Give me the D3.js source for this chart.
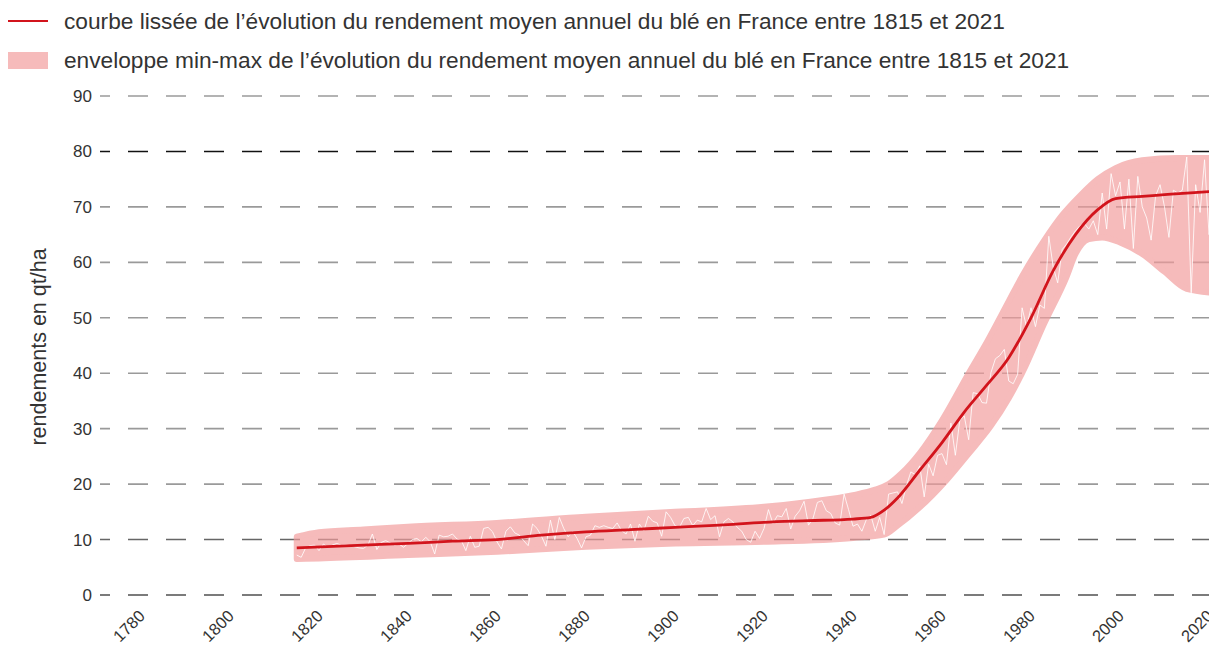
<!DOCTYPE html>
<html><head><meta charset="utf-8">
<script src="https://cdn.jsdelivr.net/npm/d3@7"></script>
<style>body{margin:0;background:#fff}svg{display:block;font-family:"Liberation Sans",Arial,sans-serif}</style>
</head><body><svg id="c" width="1209" height="646"></svg>
<script>
// ---- data ----
const yTicks = [0,10,20,30,40,50,60,70,80,90];
const xTicks = [1780,1800,1820,1840,1860,1880,1900,1920,1940,1960,1980,2000,2020];
const smoothYears  = [1815,1830,1840,1850,1860,1870,1880,1890,1900,1910,1920,1930,1940,1944,1947,1950,1955,1960,1965,1970,1975,1980,1985,1990,1995,1999,2005,2010,2015,2021];
const smoothValues = [8.5,9.0,9.3,9.7,10.0,10.8,11.4,11.8,12.2,12.6,13.1,13.4,13.7,14.0,15.3,17.5,22.5,27.5,33.0,37.8,42.8,50.0,58.5,65.0,69.5,71.5,71.9,72.2,72.5,72.8];
const upperYears  = [1815,1820,1830,1840,1860,1880,1900,1920,1930,1940,1945,1948,1951,1955,1960,1966,1970,1975,1978,1983,1987,1991,1995,1999,2005,2013,2021];
const upperValues = [10.5,11.3,11.8,12.3,13.0,14.1,15.0,15.9,16.8,18.0,19.0,20.0,22.0,25.6,31.5,40.0,45.5,53.0,57.5,64.0,68.5,72.0,75.0,77.0,78.4,78.8,78.8];
const lowerYears  = [1815,1820,1840,1860,1880,1900,1920,1940,1947,1950,1955,1961,1966,1971,1975,1978,1983,1988,1990,1993,1996,2000,2005,2010,2015,2021];
const lowerValues = [6.5,6.6,7.2,7.8,8.7,9.3,9.6,10.3,10.9,12.5,15.8,20.7,25.5,30.5,35.5,40.0,49.0,57.4,61.5,64.2,64.5,63.6,61.5,58.3,55.2,54.5];
const annualStart = 1815;
const annualValues = [7.2,6.8,8.5,8.9,9.0,8.0,9.2,8.6,9.0,9.3,9.0,9.1,8.9,8.7,8.5,8.4,9.0,11.0,8.2,9.5,9.8,9.4,9.0,9.2,8.6,
9.3,10.0,10.2,9.6,10.4,9.6,7.4,10.8,10.5,10.6,11.0,10.1,9.8,8.0,10.6,8.6,8.8,12.0,12.2,11.4,
9.6,8.3,11.5,12.3,11.2,10.8,9.8,8.9,12.8,12.0,10.6,8.8,13.5,10.0,14.0,12.0,10.5,11.5,10.2,8.5,
10.5,10.8,12.5,12.2,12.5,12.2,12.0,13.0,11.6,11.0,12.8,9.7,12.8,11.6,14.2,13.3,13.0,10.6,15.0,14.0,
12.5,12.2,13.8,14.0,12.5,13.5,13.2,15.6,13.6,14.3,10.5,13.2,13.8,13.2,12.2,11.5,10.0,9.5,11.5,10.2,
12.0,15.4,12.9,14.3,14.1,15.6,11.9,14.2,15.2,16.9,12.6,13.8,16.7,17.0,15.2,14.7,13.0,12.6,18.2,15.4,
12.4,12.8,11.5,13.6,14.4,11.5,14.0,10.9,18.2,18.4,18.6,16.5,19.7,22.2,21.7,23.3,17.7,23.6,21.5,25.2,
25.5,23.5,31.0,25.2,31.5,32.3,28.0,36.5,36.3,34.7,34.6,40.1,42.6,43.2,44.3,38.6,38.1,39.8,51.8,48.3,
51.8,48.4,52.3,51.7,64.7,59.1,56.3,62.3,63.3,64.6,65.7,66.6,67.0,66.0,67.5,65.0,72.5,66.0,76.0,72.0,
74.5,66.0,75.0,62.5,75.5,70.0,68.0,64.0,72.0,74.0,70.0,64.5,73.0,72.5,73.0,79.0,54.5,74.0,69.0,78.5,65.0,70.0];
const legendLabels = ["courbe lissée de l’évolution du rendement moyen annuel du blé en France entre 1815 et 2021",
                      "enveloppe min-max de l’évolution du rendement moyen annuel du blé en France entre 1815 et 2021"];
const yTitle = "rendements en qt/ha";

// ---- chart ----
const svg = d3.select("#c");
const x = d3.scaleLinear().domain([1780,2020]).range([141,1209]);
const y = d3.scaleLinear().domain([0,90]).range([595,96]);
const RED = "#d2141c", PINK = "#f29b9b";

// grid
const grid = svg.append("g");
grid.selectAll("line").data(yTicks).join("line")
  .attr("x1",100).attr("x2",1209)
  .attr("y1",d=>y(d)).attr("y2",d=>y(d))
  .attr("stroke",d=>d===80?"#111":(d===0?"#505050":(d===10?"#666":"#9a9a9a")))
  .attr("stroke-width",1.6)
  .attr("stroke-dasharray","20,18").attr("stroke-dashoffset",10);

// y axis labels
svg.append("g").selectAll("text").data(yTicks).join("text")
  .attr("x",92).attr("y",d=>y(d)).attr("dy","0.35em")
  .attr("text-anchor","end").attr("font-size",17).attr("fill","#333")
  .text(d=>d);

// x axis labels
svg.append("g").selectAll("text").data(xTicks).join("text")
  .attr("transform",d=>`translate(${x(d)+1},613) rotate(-45)`)
  .attr("text-anchor","end").attr("font-size",16.5).attr("fill","#333")
  .attr("dy","0.35em")
  .text(d=>d);

// y title
svg.append("text").attr("transform","translate(46,347) rotate(-90)")
  .attr("text-anchor","middle").attr("font-size",21.5).attr("fill","#333").text(yTitle);

// band
const upper = upperYears.map((yr,i)=>[yr,upperValues[i]]);
const lower = lowerYears.map((yr,i)=>[yr,lowerValues[i]]);
const lineU = d3.line().x(d=>x(d[0])).y(d=>y(d[1])).curve(d3.curveMonotoneX);
const upPath = lineU(upper);
const lowPath = lineU(lower.slice().reverse());
const bandG = svg.append("g").attr("opacity",0.68);
bandG.append("path")
  .attr("d", upPath + "L" + lowPath.slice(1) + "Z")
  .attr("fill",PINK).attr("stroke",PINK).attr("stroke-width",6).attr("stroke-linejoin","round");

// annual white line
const annual = annualValues.map((v,i)=>[annualStart+i,v]);
svg.append("path").attr("d", d3.line().x(d=>x(d[0])).y(d=>y(d[1]))(annual))
  .attr("fill","none").attr("stroke","#fff").attr("stroke-width",0.9).attr("opacity",0.9);

// smooth red line
const sm = smoothYears.map((yr,i)=>[yr,smoothValues[i]]);
svg.append("path").attr("d", lineU(sm))
  .attr("fill","none").attr("stroke",RED).attr("stroke-width",2.8);

// legend
const lg = svg.append("g");
lg.append("line").attr("x1",8).attr("x2",48).attr("y1",21).attr("y2",21).attr("stroke",RED).attr("stroke-width",2.2);
lg.append("rect").attr("x",8).attr("y",52).attr("width",40).attr("height",17).attr("fill",PINK).attr("opacity",0.68);
lg.selectAll("text").data(legendLabels).join("text")
  .attr("x",64).attr("y",(d,i)=>i?60:21).attr("dy","0.35em")
  .attr("font-size",22.7).attr("fill","#333").text(d=>d);
</script></body></html>
